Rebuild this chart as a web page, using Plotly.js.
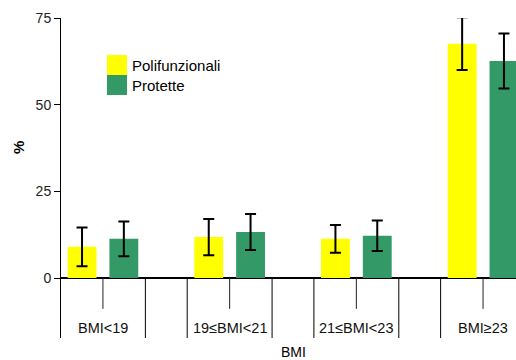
<!DOCTYPE html>
<html>
<head>
<meta charset="utf-8">
<script src="https://cdn.plot.ly/plotly-3.0.1.min.js"></script>
<style>html,body{margin:0;padding:0;background:#fff;}#chart{width:516px;height:360px;}</style>
</head>
<body>
<div id="chart"></div>
<script>
var categories = ["BMI<19", "19≤BMI<21", "21≤BMI<23", "BMI≥23"];
var seriesNames = ["Polifunzionali", "Protette"];
var polifunzionali = [9.0, 11.8, 11.3, 67.6];
var polifunzionaliErr = [5.6, 5.2, 4.0, 7.6];
var protette = [11.3, 13.3, 12.2, 62.6];
var protetteErr = [5.0, 5.2, 4.4, 7.9];
var yTicks = [0, 25, 50, 75];
var colors = ["#FFFF00", "#339966"];

var FONT = "Liberation Sans, Arial, sans-serif";
var yMin = -17.3, yMax = 75;
var halfGroup = 0.335;

function barTrace(name, vals, errs, color) {
  return {
    type: "bar", name: name, x: categories, y: vals,
    marker: {color: color, line: {width: 0}},
    error_y: {type: "data", array: errs, visible: true, color: "#000", thickness: 2, width: 5.5},
    showlegend: false, hoverinfo: "y"
  };
}

var data = [
  barTrace(seriesNames[0], polifunzionali, polifunzionaliErr, colors[0]),
  barTrace(seriesNames[1], protette, protetteErr, colors[1])
];

var shapes = [];
var annotations = [];
categories.forEach(function (c, i) {
  [i - halfGroup, i + halfGroup].forEach(function (xb, k) {
    if (i === 0 && k === 0) return;
    shapes.push({type: "line", xref: "x", yref: "y", x0: xb, x1: xb, y0: 0, y1: yMin,
      line: {color: "#000", width: 1}});
  });
  shapes.push({type: "line", xref: "x", yref: "y", x0: i, x1: i, y0: 0, y1: -8.9,
    line: {color: "#222", width: 1}});
  annotations.push({xref: "x", yref: "y", x: i, y: -14.4, text: c, showarrow: false,
    font: {family: FONT, size: 14.5, color: "#111"}, xanchor: "center", yanchor: "middle"});
});

var legX0 = 107, legY0 = 55, sq = 20, plotL = 61, plotT = 18, plotW = 455, plotH = 320;
seriesNames.forEach(function (n, k) {
  var top = legY0 + k * sq;
  shapes.push({type: "rect", xref: "paper", yref: "paper",
    x0: (legX0 - plotL) / plotW, x1: (legX0 + sq - plotL) / plotW,
    y0: 1 - (top + sq - plotT) / plotH, y1: 1 - (top - plotT) / plotH,
    fillcolor: colors[k], line: {width: 0}});
  annotations.push({xref: "paper", yref: "paper",
    x: (legX0 + sq + 3 - plotL) / plotW, y: 1 - (top + sq / 2 - plotT) / plotH,
    xanchor: "left", yanchor: "middle", text: n, showarrow: false,
    font: {family: FONT, size: 15, color: "#000"}});
});

annotations.push({xref: "paper", yref: "paper", x: (293 - plotL) / plotW, y: 0, yshift: -14,
  xanchor: "center", yanchor: "middle", text: "BMI", showarrow: false,
  font: {family: FONT, size: 14, color: "#000"}});
annotations.push({xref: "paper", yref: "y", x: (18 - plotL) / plotW, y: 37.5,
  xanchor: "center", yanchor: "middle", text: "<b>%</b>", textangle: -90, showarrow: false,
  font: {family: FONT, size: 15, color: "#000"}});

var layout = {
  width: 516, height: 360,
  margin: {l: 61, r: 0, t: 18, b: 22, pad: 0},
  paper_bgcolor: "#fff", plot_bgcolor: "#fff",
  barmode: "group", bargap: 0.34, bargroupgap: 0.31,
  showlegend: false,
  xaxis: {type: "category", range: [-0.331, 3.26], showline: false, showticklabels: false,
    ticks: "", showgrid: false, zeroline: false, fixedrange: true},
  yaxis: {range: [yMin, yMax], tickvals: yTicks, ticktext: yTicks.map(String),
    showline: true, linecolor: "#000", linewidth: 1, ticks: "outside", ticklen: 6,
    tickcolor: "#000", tickwidth: 1, showgrid: false,
    zeroline: true, zerolinecolor: "#000", zerolinewidth: 1.5,
    tickfont: {family: FONT, size: 14, color: "#222"}, fixedrange: true},
  shapes: shapes,
  annotations: annotations
};

Plotly.newPlot("chart", data, layout, {displayModeBar: false, staticPlot: true});
</script>
</body>
</html>
